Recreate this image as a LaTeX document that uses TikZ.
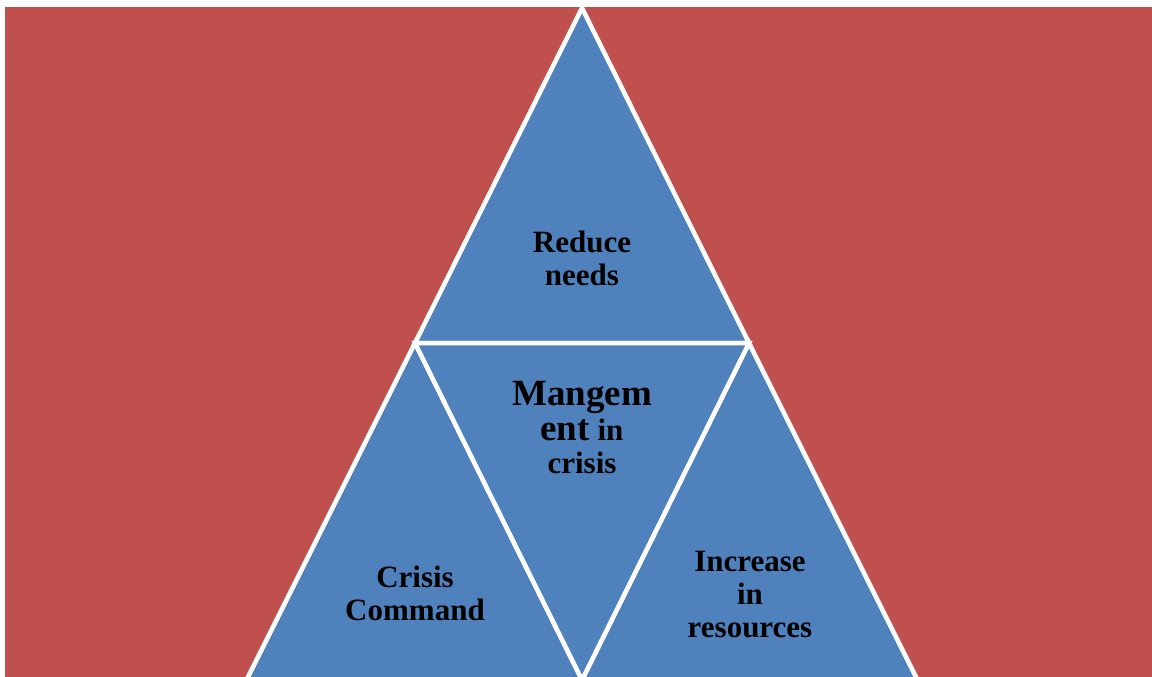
\documentclass[tikz,border=0pt]{standalone}
\usepackage{fontspec}
\setmainfont{Liberation Serif}
\usepackage{tikz}
\usetikzlibrary{positioning}
\usepackage{xcolor}
\definecolor{crisisred}{RGB}{192,80,77}
\definecolor{crisisblue}{RGB}{79,129,189}
\tikzstyle{facet} = [fill=crisisblue, draw=white, line width=4.5pt, line join=miter]
\tikzstyle{label} = [align=center, text=black, font=\bfseries\fontsize{31}{33}\selectfont, inner sep=0pt]

\begin{document}
\begin{tikzpicture}[x=1pt, y=-1pt]
\useasboundingbox (0,0) rectangle (1152,677);
\clip (0,0) rectangle (1152,677);
% red background
\fill[crisisred] (5,7) rectangle (1152,677);
% corners of the pyramid
\coordinate (apex) at (582,8);
\coordinate (midL) at (415,343);
\coordinate (midR) at (749,343);
\coordinate (baseL) at (246.5,680);
\coordinate (baseM) at (582,680);
\coordinate (baseR) at (917.5,680);
\fill[crisisblue] (apex) -- (baseR) -- (baseL) -- cycle;
\draw[facet] (apex) -- (midR) -- (midL) -- cycle;
\draw[facet] (midL) -- (baseM) -- (baseL) -- cycle;
\draw[facet] (midR) -- (baseR) -- (baseM) -- cycle;
\draw[facet] (midL) -- (midR) -- (baseM) -- cycle;
% texts (base = last line)
\node (reduce) [label, anchor=base] at (582,285) {Reduce\\needs};
\node (mgmt) [label, anchor=base] at (582,473)
  {{\fontsize{37}{38}\selectfont Mangem}\\[2pt]{\fontsize{37}{38}\selectfont ent} in\\crisis};
\node (command) [label, anchor=base] at (415,620) {Crisis\\Command};
\node (increase) [label, anchor=base] at (750,637) {Increase\\in\\resources};
\end{tikzpicture}
\end{document}
